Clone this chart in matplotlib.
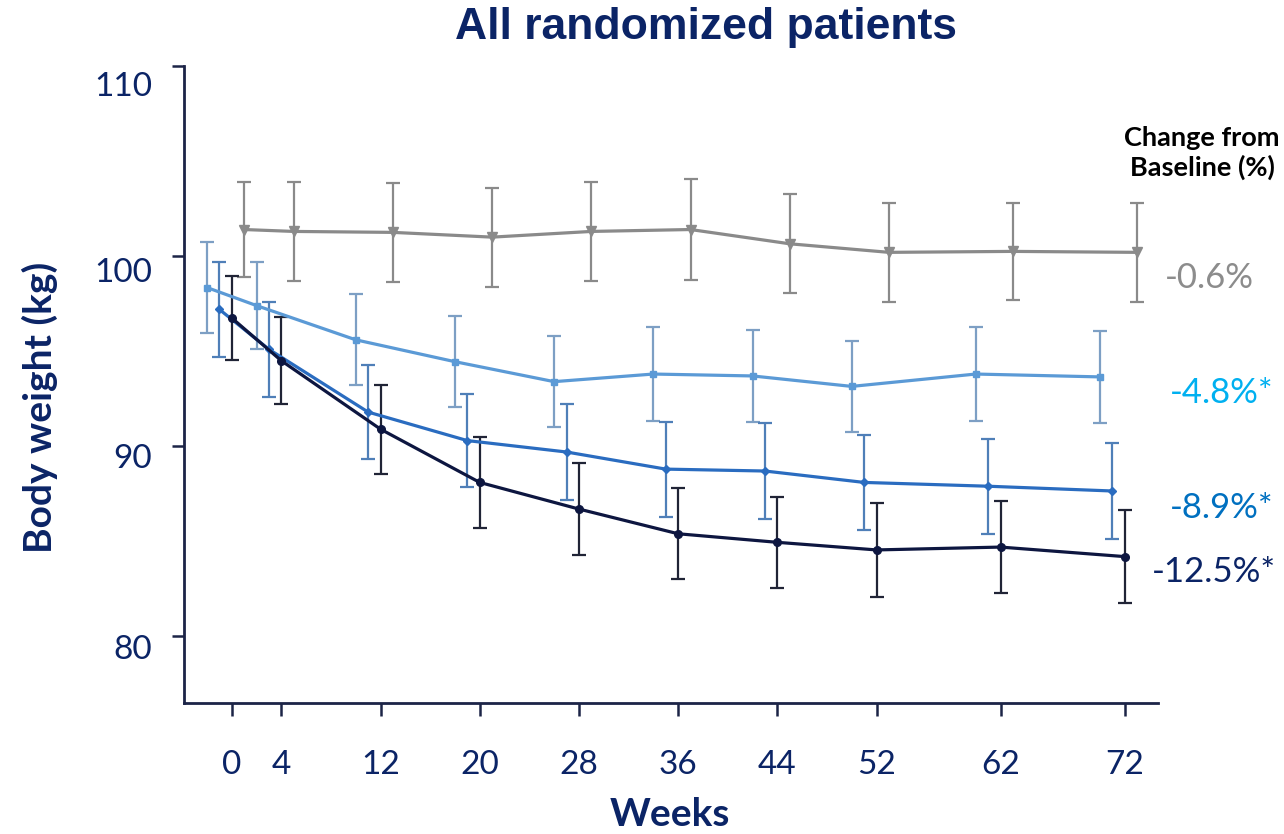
import matplotlib.pyplot as plt
from matplotlib.transforms import ScaledTranslation

weeks = [0, 4, 12, 20, 28, 36, 44, 52, 62, 72]

# mean body weight (kg) and error (kg) per arm
placebo = [101.4, 101.3, 101.25, 101.0, 101.3, 101.4, 100.65, 100.2, 100.25, 100.2]
placebo_err = [2.5, 2.6, 2.6, 2.6, 2.6, 2.65, 2.6, 2.6, 2.55, 2.6]
low_dose = [98.35, 97.4, 95.6, 94.45, 93.4, 93.8, 93.7, 93.15, 93.8, 93.65]
low_err = [2.4, 2.3, 2.4, 2.4, 2.4, 2.45, 2.4, 2.4, 2.45, 2.4]
mid_dose = [97.2, 95.1, 91.8, 90.3, 89.7, 88.8, 88.7, 88.1, 87.9, 87.65]
mid_err = [2.5, 2.5, 2.45, 2.45, 2.5, 2.5, 2.5, 2.5, 2.5, 2.5]
high_dose = [96.75, 94.5, 90.9, 88.1, 86.7, 85.4, 84.95, 84.55, 84.7, 84.2]
high_err = [2.2, 2.3, 2.35, 2.4, 2.4, 2.4, 2.4, 2.45, 2.4, 2.45]

change_labels = ["-0.6%", "-4.8%*", "-8.9%*", "-12.5%*"]

navy = "#0b2466"
fig = plt.figure(figsize=(12.84, 8.34), dpi=100)
ax = fig.add_axes([184/1284, 131/834, (1158-184)/1284, (768-131)/834])

series = [
    (placebo, placebo_err, 1, "#8a8a8a", "#8a8a8a", "v", 6.5),
    (low_dose, low_err, -2, "#5b9ad6", "#7d9fc4", "s", 5),
    (mid_dose, mid_err, -1, "#2a6cc0", "#4f7fb8", "D", 4.5),
    (high_dose, high_err, 0, "#0d1640", "#202436", "o", 5.5),
]
for vals, err, shift, col, ecol, mk, ms in series:
    xs = [w + shift for w in weeks]
    ax.errorbar(xs, vals, yerr=err, color=col, ecolor=ecol, elinewidth=1.6,
                capsize=5, capthick=1.6, lw=2.3, marker=mk, ms=ms)

ax.set_xlim(-3.85, 74.7)
ax.set_ylim(76.5, 110)
ax.set_xticks(weeks)
ax.set_yticks([80, 90, 100, 110])
for s in ["top", "right"]:
    ax.spines[s].set_visible(False)
for s in ["left", "bottom"]:
    ax.spines[s].set_color("#1c2447")
    ax.spines[s].set_linewidth(2)
ax.tick_params(axis="both", length=9, width=1.8, color="#1c2447",
               labelcolor=navy, labelsize=24)
ax.tick_params(axis="y", pad=14)
ax.tick_params(axis="x", pad=25)
for lbl in ax.get_xticklabels() + ax.get_yticklabels():
    lbl.set_fontfamily("Lato")

# the y labels sit a little below their ticks in the original
for lbl, dy in zip(ax.get_yticklabels(), [11, 10, 14, 18]):
    lbl.set_transform(lbl.get_transform() + ScaledTranslation(0, -dy/100, fig.dpi_scale_trans))

fig.text(706/1284, 1 - 28/834, "All randomized patients", ha="center", va="center",
         fontsize=32, fontweight="bold", color=navy, family="Liberation Sans")
fig.text(670/1284, 1 - 815/834, "Weeks", ha="center", va="center",
         fontsize=28, fontweight="bold", color=navy, family="Lato")
fig.text(40/1284, 1 - 407/834, "Body weight (kg)", ha="center", va="center",
         rotation=90, fontsize=28, fontweight="bold", color=navy, family="Lato")

fig.text(1202/1284, 1 - 153/834, "Change from\nBaseline (%)", ha="center", va="center",
         fontsize=19.5, fontweight="bold", color="black", family="Lato", linespacing=1.25)
label_pos = [(1165, 278), (1170, 393), (1170, 508), (1152, 572)]
label_cols = ["#8c8c8c", "#00b0f0", "#0070c0", navy]
for txt, (px, py), c in zip(change_labels, label_pos, label_cols):
    fig.text(px/1284, 1 - py/834, txt, ha="left", va="center", fontsize=25,
             color=c, family="Lato")

fig.savefig("out.png", dpi=100)
